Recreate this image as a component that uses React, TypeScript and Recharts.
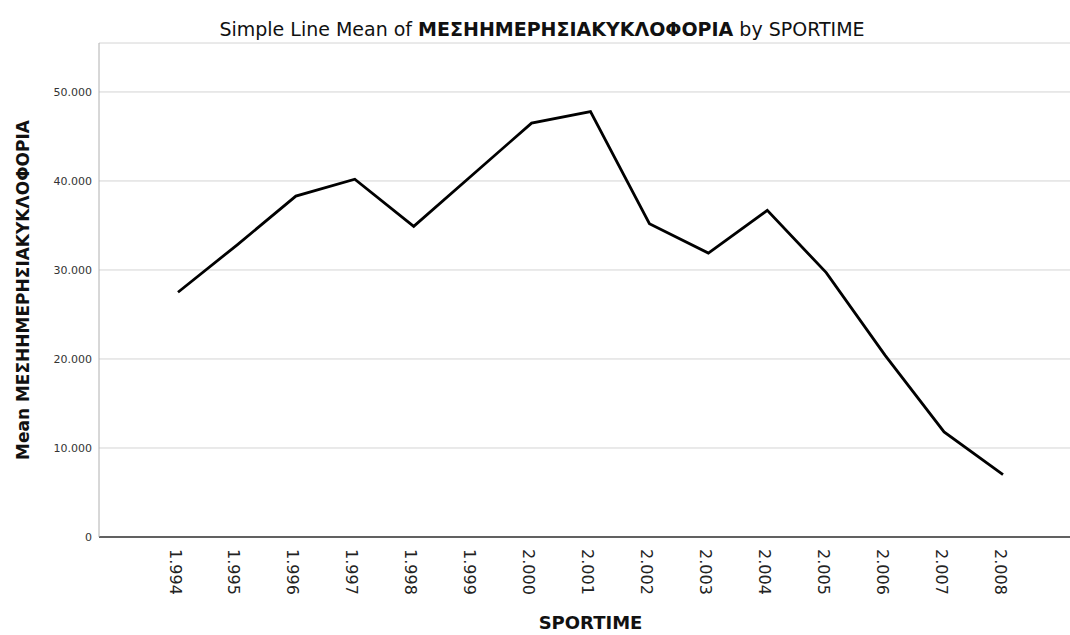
import React from 'react';
import { LineChart, Line, XAxis, YAxis, CartesianGrid } from 'recharts';

const years = ['1.994', '1.995', '1.996', '1.997', '1.998', '1.999', '2.000', '2.001', '2.002', '2.003', '2.004', '2.005', '2.006', '2.007', '2.008'];
const means = [27500, 32800, 38300, 40200, 34900, 40700, 46500, 47800, 35200, 31900, 36700, 29700, 20400, 11800, 7000];
const yTicks = [0, 10000, 20000, 30000, 40000, 50000];

const data = years.map((y, i) => ({ year: y, mean: means[i] }));

const FONT = "'DejaVu Sans', 'Liberation Sans', sans-serif";

const fmt = (v: number) => {
  if (v === 0) return '0';
  const s = String(Math.round(v));
  return s.replace(/\B(?=(\d{3})+(?!\d))/g, '.');
};

const XTick = (props: any) => {
  const { x, y, payload } = props;
  return (
    <text
      transform={`translate(${x - 3}, ${y + 12}) rotate(90)`}
      textAnchor="start"
      dominantBaseline="central"
      fontSize={16}
      fontFamily={FONT}
      fill="#222"
    >
      {payload.value}
    </text>
  );
};

export default function App() {
  return (
    <div style={{ position: 'absolute', left: 0, top: 0, width: 1070, height: 635, background: '#fff', overflow: 'hidden' }}>
      <div
        style={{
          position: 'absolute',
          left: 542,
          top: 18,
          transform: 'translateX(-50%)',
          whiteSpace: 'nowrap',
          fontFamily: FONT,
          fontSize: 19,
          color: '#111',
          lineHeight: '22px',
        }}
      >
        Simple Line Mean of <b>ΜΕΣΗΗΜΕΡΗΣΙΑΚΥΚΛΟΦΟΡΙΑ</b> by SPORTIME
      </div>
      <LineChart width={1070} height={635} data={data} margin={{ top: 43, right: 0, bottom: 0, left: 0 }}>
        <CartesianGrid horizontal vertical={false} stroke="#d4d4d4" />
        <XAxis
          dataKey="year"
          height={98}
          padding={{ left: 79, right: 67 }}
          interval={0}
          tickLine={false}
          tickSize={0}
          tickMargin={0}
          axisLine={{ stroke: '#333', strokeWidth: 1.6 }}
          tick={<XTick />}
          label={{
            content: (p: any) => {
              const vb = p.viewBox || { x: 99, width: 971 };
              return (
                <text
                  x={vb.x + vb.width / 2 + 6}
                  y={629}
                  textAnchor="middle"
                  fontSize={18}
                  fontWeight="bold"
                  fontFamily={FONT}
                  fill="#111"
                >
                  SPORTIME
                </text>
              );
            },
          }}
        />
        <YAxis
          width={99}
          domain={[0, 55500]}
          ticks={yTicks}
          tickFormatter={fmt}
          tickLine={false}
          tickSize={0}
          tickMargin={7}
          axisLine={{ stroke: '#b0b0b0' }}
          tick={{ fontSize: 11, fill: '#333', fontFamily: FONT }}
          label={{
            content: (p: any) => {
              const vb = p.viewBox || { y: 43, height: 494 };
              return (
                <text
                  transform={`translate(23, ${vb.y + vb.height / 2}) rotate(-90)`}
                  textAnchor="middle"
                  dominantBaseline="central"
                  fontSize={17}
                  fontWeight="bold"
                  fontFamily={FONT}
                  fill="#111"
                >
                  Mean ΜΕΣΗΗΜΕΡΗΣΙΑΚΥΚΛΟΦΟΡΙΑ
                </text>
              );
            },
          }}
        />
        <Line type="linear" dataKey="mean" stroke="#000" strokeWidth={2.8} dot={false} isAnimationActive={false} />
      </LineChart>
    </div>
  );
}
